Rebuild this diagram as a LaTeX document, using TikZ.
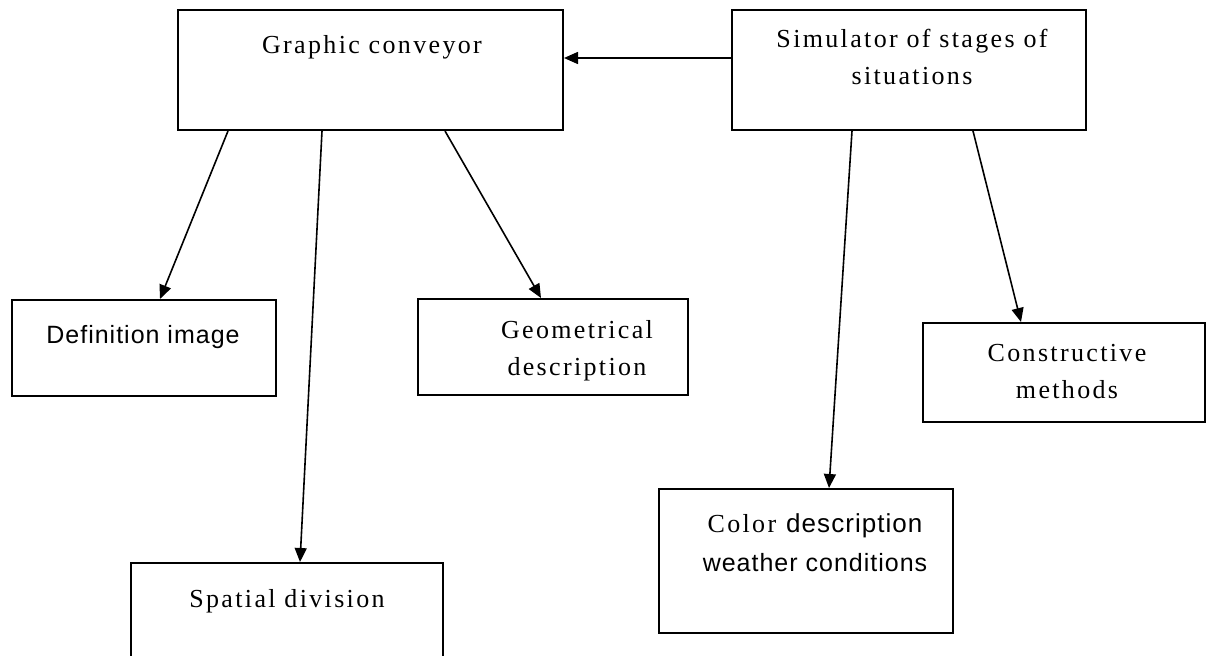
\documentclass[tikz,border=0pt]{standalone}
\usepackage{fontspec}
\setmainfont{Liberation Serif}[LetterSpace=9]
\newfontfamily\plainsans{Liberation Sans}[LetterSpace=4]
\usetikzlibrary{arrows.meta}
\begin{document}
\begin{tikzpicture}[x=1pt,y=-1pt,
  box/.style={draw=black, line width=2pt, rectangle, inner sep=0pt},
  lbl/.style={anchor=base, align=center, inner sep=0pt,
    font=\fontsize{26}{37}\selectfont},
  slbl/.style={anchor=base, align=center, inner sep=0pt,
    font=\plainsans\fontsize{25}{39}\selectfont},
  arr/.style={line width=1.6pt, -{Triangle[length=14pt,width=12pt]}}]
\clip (0,0) rectangle (1208,656);
\fill[white] (0,0) rectangle (1208,656);

% boxes
\node[box, minimum width=385pt, minimum height=120pt] (gc)  at (370.5,70) {};
\node[box, minimum width=354pt, minimum height=120pt] (sim) at (909,70) {};
\node[box, minimum width=264pt, minimum height=96pt]  (def) at (144,348) {};
\node[box, minimum width=270pt, minimum height=96pt]  (geo) at (553,347) {};
\node[box, minimum width=282pt, minimum height=99pt]  (con) at (1064,372.5) {};
\node[box, minimum width=294pt, minimum height=144pt] (col) at (806,561) {};
\node[box, minimum width=312pt, minimum height=137pt] (spa) at (287,631.5) {};

% labels (base anchor sits on the last line of a wrapped label)
\node[lbl]  (gct)  at (372,53)  {Graphic conveyor};
\node[lbl]  (simt) at (912,84)  {Simulator of stages of\\situations};
\node[slbl] (deft) at (143,343) {Definition image};
\node[lbl]  (geot) at (577,375) {Geometrical\\description};
\node[lbl]  (cont) at (1067,398) {Constructive\\methods};
\node[lbl]  (colt) at (815,532) {Color\hspace{10pt}{\plainsans description}};
\node[slbl] (colt2) at (815,571) {weather conditions};
\node[lbl]  (spat) at (287,607) {Spatial division};

% connectors
\draw[arr] ([yshift=12pt]sim.west) -- ([yshift=12pt]gc.east);
\draw[arr] ([xshift=-142.5pt]gc.south) -- ([xshift=16pt]def.north);
\draw[arr] ([xshift=-48.5pt]gc.south) -- ([xshift=13pt]spa.north);
\draw[arr] ([xshift=74.5pt]gc.south) -- ([xshift=-12pt]geo.north);
\draw[arr] ([xshift=-57pt]sim.south) -- ([xshift=23pt]col.north);
\draw[arr] ([xshift=64pt]sim.south) -- ([xshift=-43pt]con.north);
\end{tikzpicture}
\end{document}
